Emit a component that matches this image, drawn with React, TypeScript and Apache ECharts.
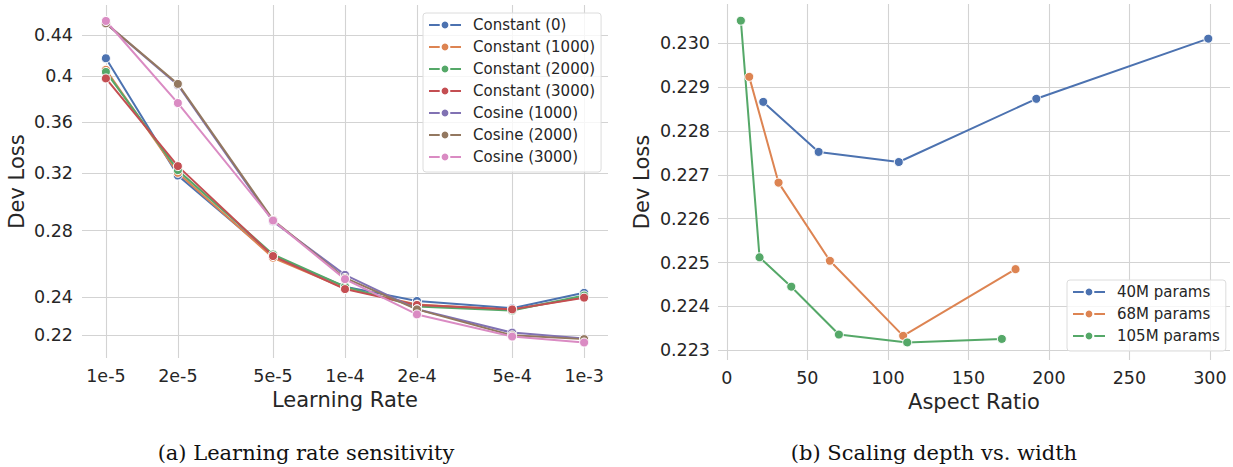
import React, { useEffect, useRef } from "react";
import * as echarts from "echarts";

// ---------- Data: (a) learning rate sensitivity ----------
const lrValues = [1e-5, 2e-5, 5e-5, 1e-4, 2e-4, 5e-4, 1e-3];
const lrLabels = ["1e-5", "2e-5", "5e-5", "1e-4", "2e-4", "5e-4", "1e-3"];
const lossTickValues = [0.22, 0.24, 0.28, 0.32, 0.36, 0.4, 0.44];
const lossTickLabels = ["0.22", "0.24", "0.28", "0.32", "0.36", "0.4", "0.44"];

const lrSeriesNames = [
  "Constant (0)",
  "Constant (1000)",
  "Constant (2000)",
  "Constant (3000)",
  "Cosine (1000)",
  "Cosine (2000)",
  "Cosine (3000)",
];
const constant0 = [0.417, 0.318, 0.264, 0.246, 0.238, 0.234, 0.2425];
const constant1000 = [0.406, 0.32, 0.263, 0.245, 0.236, 0.2332, 0.2402];
const constant2000 = [0.404, 0.322, 0.265, 0.246, 0.2349, 0.2328, 0.241];
const constant3000 = [0.398, 0.325, 0.264, 0.2446, 0.2358, 0.2334, 0.2398];
const cosine1000 = [0.452, 0.392, 0.286, 0.2528, 0.2335, 0.2212, 0.2182];
const cosine2000 = [0.452, 0.393, 0.287, 0.251, 0.2334, 0.2198, 0.2179];
const cosine3000 = [0.4545, 0.376, 0.2866, 0.2503, 0.2307, 0.2192, 0.2162];
const lrSeriesValues = [constant0, constant1000, constant2000, constant3000, cosine1000, cosine2000, cosine3000];

// ---------- Data: (b) scaling depth vs. width ----------
const aspectTickValues = [0, 50, 100, 150, 200, 250, 300];
const devTickValues = [0.223, 0.224, 0.225, 0.226, 0.227, 0.228, 0.229, 0.23];
const scaleSeriesNames = ["40M params", "68M params", "105M params"];
const aspect40 = [22.6, 57, 106.8, 192.2, 299];
const loss40 = [0.22866, 0.22752, 0.22729, 0.22873, 0.2301];
const aspect68 = [13.9, 32.1, 64, 109.5, 179.3];
const loss68 = [0.22923, 0.22682, 0.22504, 0.22333, 0.22485];
const aspect105 = [8.7, 20.3, 40, 69.6, 112, 170.8];
const loss105 = [0.23051, 0.22512, 0.22445, 0.22336, 0.22318, 0.22326];

const palette = ["#4C72B0", "#DD8452", "#55A868", "#C44E52", "#8172B3", "#937860", "#DA8BC3"];
const TEXT = "#262626";
const GRIDC = "#d3d3d3";
const FONT = "DejaVu Sans";

function nearestLabel(values: number[], labels: string[], v: number): string {
  let best = 0;
  let bd = Infinity;
  values.forEach((t, i) => {
    const d = Math.abs(Math.log(t) - Math.log(v));
    if (d < bd) {
      bd = d;
      best = i;
    }
  });
  return labels[best];
}

export default function App() {
  const ref = useRef<HTMLDivElement>(null);
  useEffect(() => {
    if (!ref.current) return;
    const chart = echarts.init(ref.current, undefined, { renderer: "svg" });

    const axisLabelBase = { color: TEXT, fontFamily: FONT, fontSize: 17.5 };
    const nameStyle = { color: TEXT, fontFamily: FONT, fontSize: 21 };
    const splitLine = { show: true, lineStyle: { color: GRIDC, width: 1.1 } };

    const lineSeries = (name: string, data: number[][], color: string, xi: number) => ({
      type: "line",
      name,
      xAxisIndex: xi,
      yAxisIndex: xi,
      data,
      symbol: "circle",
      symbolSize: 9,
      lineStyle: { color, width: 2 },
      itemStyle: { color, borderColor: "#ffffff", borderWidth: 1 },
      emphasis: { disabled: true },
    });

    const legendBase = {
      orient: "vertical",
      itemWidth: 32,
      itemHeight: 11,
      itemGap: 6,
      backgroundColor: "rgba(255,255,255,0.8)",
      borderColor: "#dcdcdc",
      borderWidth: 1,
      borderRadius: 3,
      textStyle: { color: TEXT, fontFamily: FONT, fontSize: 15, lineHeight: 16, padding: [0, 0, 0, 7] },
    };

    const option: any = {
      animation: false,
      backgroundColor: "#ffffff",
      grid: [
        { left: 82, top: 5, width: 526, height: 353 },
        { left: 718, top: 4, width: 512, height: 356 },
      ],
      xAxis: [
        {
          type: "log",
          gridIndex: 0,
          min: 1e-5 * Math.pow(10, -0.1),
          max: 1e-3 * Math.pow(10, 0.1),
          name: "Learning Rate",
          nameLocation: "middle",
          nameGap: 30,
          nameTextStyle: nameStyle,
          axisLine: { show: false },
          axisTick: { show: false, customValues: lrValues },
          axisLabel: {
            ...axisLabelBase,
            margin: 9,
            customValues: lrValues,
            formatter: (v: number) => nearestLabel(lrValues, lrLabels, v),
          },
          splitLine,
        },
        {
          type: "value",
          gridIndex: 1,
          min: -5.5,
          max: 312.5,
          name: "Aspect Ratio",
          nameLocation: "middle",
          nameGap: 30,
          nameTextStyle: nameStyle,
          axisLine: { show: false },
          axisTick: { show: false, customValues: aspectTickValues },
          axisLabel: { ...axisLabelBase, margin: 9, customValues: aspectTickValues, formatter: (v: number) => String(Math.round(v)) },
          splitLine,
        },
      ],
      yAxis: [
        {
          type: "log",
          gridIndex: 0,
          min: 0.2086,
          max: 0.4716,
          name: "Dev Loss",
          nameLocation: "middle",
          nameGap: 55,
          nameTextStyle: nameStyle,
          axisLine: { show: false },
          axisTick: { show: false, customValues: lossTickValues },
          axisLabel: {
            ...axisLabelBase,
            margin: 9,
            customValues: lossTickValues,
            formatter: (v: number) => nearestLabel(lossTickValues, lossTickLabels, v),
          },
          splitLine,
        },
        {
          type: "value",
          gridIndex: 1,
          min: 0.22278,
          max: 0.23089,
          name: "Dev Loss",
          nameLocation: "middle",
          nameGap: 66,
          nameTextStyle: nameStyle,
          axisLine: { show: false },
          axisTick: { show: false, customValues: devTickValues },
          axisLabel: { ...axisLabelBase, margin: 8, customValues: devTickValues, formatter: (v: number) => v.toFixed(3) },
          splitLine,
        },
      ],
      legend: [
        {
          ...legendBase,
          left: 423,
          top: 13,
          padding: [4, 6, 7, 5],
          data: lrSeriesNames,
        },
        {
          ...legendBase,
          left: 1067,
          top: 280,
          padding: [4, 6, 7, 5],
          data: scaleSeriesNames,
        },
      ],
      series: [
        ...lrSeriesNames.map((n, i) =>
          lineSeries(
            n,
            lrValues.map((x, j) => [x, lrSeriesValues[i][j]]),
            palette[i],
            0
          )
        ),
        lineSeries(scaleSeriesNames[0], aspect40.map((x, j) => [x, loss40[j]]), palette[0], 1),
        lineSeries(scaleSeriesNames[1], aspect68.map((x, j) => [x, loss68[j]]), palette[1], 1),
        lineSeries(scaleSeriesNames[2], aspect105.map((x, j) => [x, loss105[j]]), palette[2], 1),
      ],
      graphic: [
        {
          type: "text",
          x: 306,
          y: 453,
          style: {
            text: "(a) Learning rate sensitivity",
            font: '21px "DejaVu Serif"',
            fill: "#111111",
            align: "center",
            verticalAlign: "middle",
          },
        },
        {
          type: "text",
          x: 934,
          y: 453,
          style: {
            text: "(b) Scaling depth vs. width",
            font: '21px "DejaVu Serif"',
            fill: "#111111",
            align: "center",
            verticalAlign: "middle",
          },
        },
      ],
    };

    chart.setOption(option);
    return () => chart.dispose();
  }, []);

  return (
    <div
      ref={ref}
      style={{ position: "absolute", left: 0, top: 0, width: 1233, height: 467, background: "#fff" }}
    />
  );
}
